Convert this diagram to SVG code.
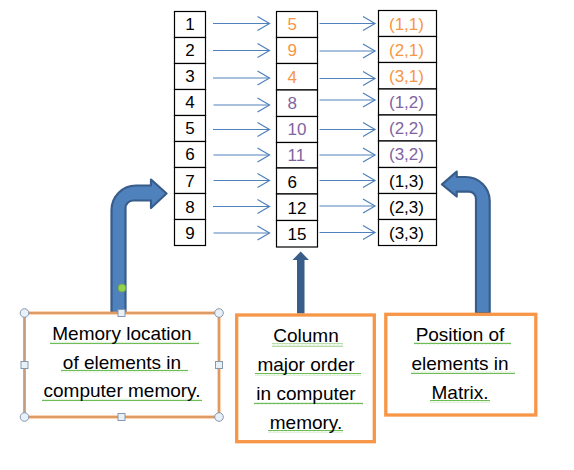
<svg xmlns="http://www.w3.org/2000/svg" width="574" height="470" viewBox="0 0 574 470">
<defs>
<style>
.cell{fill:#ffffff;stroke:#000000;stroke-width:1.2}
.t{font-family:"Liberation Sans",Arial,sans-serif;font-size:17px;fill:#000000}
.or{fill:#F79646}
.pu{fill:#8064A2}
.lbl{font-family:"Liberation Sans",Arial,sans-serif;font-size:19px;fill:#000000;text-anchor:middle}
.link{stroke:#4F81BD;stroke-width:1.2;fill:none;marker-end:url(#open)}
.box{fill:#ffffff;stroke:#F79646}
.bent{fill:#4F81BD;stroke:#385D8A;stroke-width:2.2;stroke-linejoin:round}
.sq{fill:url(#squiggle)}
.h{fill:#E9F1F8;stroke:#8797AC;stroke-width:1}
</style>
<marker id="open" markerUnits="userSpaceOnUse" markerWidth="14" markerHeight="16" refX="12.5" refY="7.5" orient="auto" overflow="visible">
<path d="M0.5,0.5 L12.5,7.5 L0.5,14.5" fill="none" stroke="#4F81BD" stroke-width="1.2"/>
</marker>
<pattern id="squiggle" patternUnits="userSpaceOnUse" width="4" height="3">
<path d="M0,2.2 L1,0.8 L2,2.2 L3,0.8 L4,2.2" fill="none" stroke="#5DB443" stroke-width="0.9"/>
</pattern>
</defs>
<rect width="574" height="470" fill="#ffffff"/>

<g id="connectors">
<line class="link" x1="213" y1="23.5" x2="269.5" y2="23.5"/>
<line class="link" x1="213" y1="50.5" x2="269.5" y2="50.5"/>
<line class="link" x1="213" y1="78" x2="269.5" y2="78"/>
<line class="link" x1="213.5" y1="105" x2="269.5" y2="105"/>
<line class="link" x1="213" y1="129.5" x2="269.5" y2="129.5"/>
<line class="link" x1="213.5" y1="155" x2="269.5" y2="155"/>
<line class="link" x1="213.5" y1="180.5" x2="269.5" y2="180.5"/>
<line class="link" x1="213" y1="206.5" x2="269.5" y2="206.5"/>
<line class="link" x1="213.5" y1="233" x2="269.5" y2="233"/>

<line class="link" x1="319.5" y1="23.5" x2="375" y2="23.5"/>
<line class="link" x1="319.5" y1="51" x2="375" y2="51"/>
<line class="link" x1="319.5" y1="78.5" x2="375" y2="78.5"/>
<line class="link" x1="319.5" y1="100" x2="375" y2="100"/>
<line class="link" x1="319.5" y1="129.5" x2="375" y2="129.5"/>
<line class="link" x1="319.5" y1="155" x2="375" y2="155"/>
<line class="link" x1="319.5" y1="180.5" x2="375" y2="180.5"/>
<line class="link" x1="319.5" y1="206" x2="375" y2="206"/>
<line class="link" x1="319.5" y1="232.5" x2="375" y2="232.5"/>

<path id="arrow-left" class="bent" d="M111.5,313 L111.5,210 A24.5,24.5 0 0 1 136,185.5 L151,185.5 L151,179.5 L166.5,193.5 L151,208 L151,200.5 L133,200.5 A7.5,7.5 0 0 0 125.5,208 L125.5,313 Z"/>
<path id="arrow-right" class="bent" d="M489.7,313 L489.7,201 A24,24 0 0 0 465.7,177 L456.7,177 L456.7,171.7 L442,184.3 L456.7,196.5 L456.7,191.7 L469,191.7 A7,7 0 0 1 476,198.7 L476,313 Z"/>
<g id="arrow-middle" fill="#385D8A">
<rect x="297" y="259.5" width="7.5" height="54"/>
<path d="M292.5,260 L300.7,251.5 L308.9,260 Z"/>
</g>
</g>

<g id="col-memory">
<g id="m1"><rect class="cell" x="174.5" y="11.5" width="31" height="26"/><text class="t" x="190" y="30" text-anchor="middle">1</text></g>
<g id="m2"><rect class="cell" x="174.5" y="37.5" width="31" height="26"/><text class="t" x="190" y="56" text-anchor="middle">2</text></g>
<g id="m3"><rect class="cell" x="174.5" y="63.5" width="31" height="26"/><text class="t" x="190" y="82" text-anchor="middle">3</text></g>
<g id="m4"><rect class="cell" x="174.5" y="89.5" width="31" height="26"/><text class="t" x="190" y="108" text-anchor="middle">4</text></g>
<g id="m5"><rect class="cell" x="174.5" y="115.5" width="31" height="26"/><text class="t" x="190" y="134" text-anchor="middle">5</text></g>
<g id="m6"><rect class="cell" x="174.5" y="141.5" width="31" height="26"/><text class="t" x="190" y="160" text-anchor="middle">6</text></g>
<g id="m7"><rect class="cell" x="174.5" y="167.5" width="31" height="26"/><text class="t" x="190" y="186.5" text-anchor="middle">7</text></g>
<g id="m8"><rect class="cell" x="174.5" y="193.5" width="31" height="26"/><text class="t" x="190" y="212.5" text-anchor="middle">8</text></g>
<g id="m9"><rect class="cell" x="174.5" y="219.5" width="31" height="26"/><text class="t" x="190" y="238.5" text-anchor="middle">9</text></g>
</g>

<g id="col-values">
<g id="v1"><rect class="cell" x="276.5" y="11.5" width="41" height="26"/><text class="t or" x="287.5" y="30">5</text></g>
<g id="v2"><rect class="cell" x="276.5" y="37.5" width="41" height="26"/><text class="t or" x="287.5" y="56">9</text></g>
<g id="v3"><rect class="cell" x="276.5" y="63.5" width="41" height="26.5"/><text class="t or" x="287.5" y="82.5">4</text></g>
<g id="v4"><rect class="cell" x="276.5" y="90" width="41" height="26.5"/><text class="t pu" x="287.5" y="109">8</text></g>
<g id="v5"><rect class="cell" x="276.5" y="116.5" width="41" height="26"/><text class="t pu" x="287.5" y="135">10</text></g>
<g id="v6"><rect class="cell" x="276.5" y="142.5" width="41" height="25.5"/><text class="t pu" x="287.5" y="161">11</text></g>
<g id="v7"><rect class="cell" x="276.5" y="168" width="41" height="26"/><text class="t" x="287.5" y="187.5">6</text></g>
<g id="v8"><rect class="cell" x="276.5" y="194" width="41" height="26.5"/><text class="t" x="287.5" y="213.5">12</text></g>
<g id="v9"><rect class="cell" x="276.5" y="220.5" width="41" height="26.5"/><text class="t" x="287.5" y="239.5">15</text></g>
</g>

<g id="col-positions">
<g id="p1"><rect class="cell" x="378.5" y="10.5" width="58" height="26"/><text class="t or" x="389" y="30">(1,1)</text></g>
<g id="p2"><rect class="cell" x="378.5" y="36.5" width="58" height="26"/><text class="t or" x="389" y="56">(2,1)</text></g>
<g id="p3"><rect class="cell" x="378.5" y="62.5" width="58" height="26.5"/><text class="t or" x="389" y="82">(3,1)</text></g>
<g id="p4"><rect class="cell" x="378.5" y="89" width="58" height="26"/><text class="t pu" x="389" y="108">(1,2)</text></g>
<g id="p5"><rect class="cell" x="378.5" y="115" width="58" height="26"/><text class="t pu" x="389" y="134">(2,2)</text></g>
<g id="p6"><rect class="cell" x="378.5" y="141" width="58" height="26.5"/><text class="t pu" x="389" y="160">(3,2)</text></g>
<g id="p7"><rect class="cell" x="378.5" y="167.5" width="58" height="26"/><text class="t" x="389" y="186.5">(1,3)</text></g>
<g id="p8"><rect class="cell" x="378.5" y="193.5" width="58" height="26"/><text class="t" x="389" y="212.5">(2,3)</text></g>
<g id="p9"><rect class="cell" x="378.5" y="219.5" width="58" height="26"/><text class="t" x="389" y="238.5">(3,3)</text></g>
</g>

<g id="box-memory-location">
<rect class="box" x="24.5" y="313" width="194.5" height="104" stroke-width="2.8"/>
<rect x="24.5" y="313" width="194.5" height="104" fill="none" stroke="#8FA6C0" stroke-width="0.5"/>
<rect class="sq" x="50" y="341.5" width="149" height="3"/>
<rect class="sq" x="61" y="369.5" width="127" height="3"/>
<rect class="sq" x="42" y="398.5" width="160" height="3"/>
<text class="lbl" x="122" y="340">Memory location</text>
<text class="lbl" x="122" y="369">of elements in</text>
<text class="lbl" x="122" y="397">computer memory.</text>
<circle class="h" cx="24.5" cy="313" r="4.3"/>
<circle class="h" cx="219" cy="313" r="4.3"/>
<circle class="h" cx="24.5" cy="417" r="4.3"/>
<circle class="h" cx="219" cy="417" r="4.3"/>
<rect class="h" x="118" y="309.5" width="7" height="7"/>
<rect class="h" x="118" y="413.5" width="7" height="7"/>
<rect class="h" x="21" y="361.5" width="7" height="7"/>
<rect class="h" x="215.5" y="361.5" width="7" height="7"/>
<circle cx="122" cy="288" r="4" fill="#92D050" stroke="#6CA53A" stroke-width="0.8"/>
</g>

<g id="box-column-major">
<rect class="box" x="236.7" y="315" width="137.6" height="126.7" stroke-width="3.3"/>
<rect class="sq" x="272" y="343.5" width="71" height="3"/>
<rect class="sq" x="255" y="373" width="106" height="3"/>
<rect class="sq" x="254" y="402" width="109" height="3"/>
<rect class="sq" x="268" y="430" width="75" height="3"/>
<text class="lbl" x="306" y="341.5">Column</text>
<text class="lbl" x="306" y="370.5">major order</text>
<text class="lbl" x="306" y="400">in computer</text>
<text class="lbl" x="306" y="428.5">memory.</text>
</g>

<g id="box-position">
<rect class="box" x="385.8" y="314.3" width="150" height="100.7" stroke-width="3.3"/>
<rect class="sq" x="414" y="342" width="97" height="3"/>
<rect class="sq" x="411" y="371" width="104" height="3"/>
<rect class="sq" x="430" y="400" width="60" height="3"/>
<text class="lbl" x="460" y="340.5">Position of</text>
<text class="lbl" x="460" y="370">elements in</text>
<text class="lbl" x="460" y="398.5">Matrix.</text>
</g>
</svg>
